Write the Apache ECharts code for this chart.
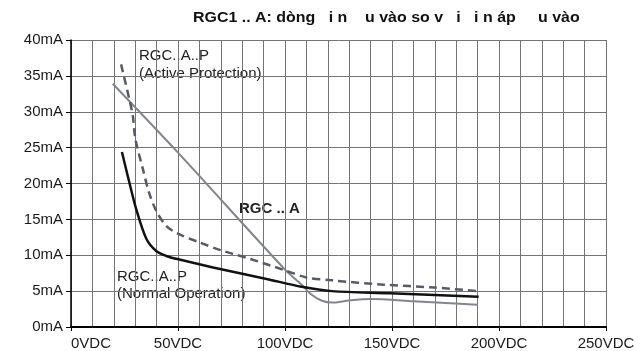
<!DOCTYPE html>
<html>
<head>
<meta charset="utf-8">
<script src="https://cdn.jsdelivr.net/npm/echarts@6/dist/echarts.min.js"></script>
<style>
  html, body { margin: 0; padding: 0; background: #fff; }
  #chart { width: 641px; height: 351px; }
</style>
</head>
<body>
<div id="chart"></div>
<script>
// Dòng đầu vào (mA) theo điện áp đầu vào (VDC)
const rgcA = [
  [19.5, 33.9], [50, 24.3], [100, 8.0], [107.8, 5.9], [112, 4.6], [117, 3.7],
  [122, 3.4], [130, 3.7], [140, 3.9], [160, 3.6], [190, 3.1],
];
const rgcActive = [
  [23.4, 36.6], [27.3, 31.7], [28.9, 29.4], [30.1, 26.2], [33.6, 22.0], [36.4, 18.8],
  [39.8, 16.2], [44.5, 14.1], [50, 13.0], [60, 11.8], [70, 10.7], [83.6, 9.5],
  [100, 7.9], [110, 6.9], [122, 6.5], [146, 5.9], [170, 5.5], [190, 5.0],
];
const rgcNormal = [
  [23.8, 24.4], [27.3, 20.1], [30.5, 16.4], [35.2, 12.3], [39.8, 10.6], [44.5, 9.9],
  [49.2, 9.5], [66.4, 8.3], [91.4, 6.7], [107.8, 5.6], [122, 5.0], [149, 4.7], [190.5, 4.2],
];

const FONT = '"Liberation Sans", Arial, sans-serif';
const GRID_LN = '#747474';

const chart = echarts.init(document.getElementById('chart'), null, { renderer: 'canvas' });

const splitCommon = { show: true, lineStyle: { color: GRID_LN, width: 1 } };

chart.setOption({
  animation: false,
  backgroundColor: '#fff',
  grid: { left: 71, right: 35, top: 40, bottom: 23 },
  xAxis: {
    type: 'value',
    min: 0, max: 250, interval: 50,
    axisLine: { lineStyle: { color: '#000', width: 2 } },
    axisTick: { show: true, length: 4, lineStyle: { color: '#000' } },
    minorTick: { show: false, splitNumber: 5 },
    minorSplitLine: splitCommon,
    splitLine: splitCommon,
    axisLabel: {
      color: '#1a1a1a', fontSize: 15, fontFamily: FONT, margin: 9,
      alignMinLabel: 'left',
      formatter: (v) => v + 'VDC',
    },
  },
  yAxis: {
    type: 'value',
    min: 0, max: 40, interval: 5,
    axisLine: { show: true, lineStyle: { color: '#000', width: 1.5 } },
    axisTick: { show: true, length: 5, lineStyle: { color: '#000' } },
    splitLine: splitCommon,
    axisLabel: {
      color: '#1a1a1a', fontSize: 15, fontFamily: FONT, margin: 8,
      formatter: (v) => v + 'mA',
    },
  },
  series: [
    {
      name: 'RGC..A', type: 'line', data: rgcA, smooth: 0.3, showSymbol: false,
      lineStyle: { color: '#82858d', width: 2 },
    },
    {
      name: 'RGC..A..P Active', type: 'line', data: rgcActive, smooth: 0.3, showSymbol: false,
      lineStyle: { color: '#565b66', width: 2.5, type: [8, 5] },
    },
    {
      name: 'RGC..A..P Normal', type: 'line', data: rgcNormal, smooth: 0.3, showSymbol: false,
      lineStyle: { color: '#111', width: 2.5 },
    },
  ],
  graphic: [
    {
      // tiêu đề hơi giãn ngang như ảnh gốc
      type: 'text', left: 193, top: 11, scaleX: 1.14,
      style: {
        text: 'RGC1 .. A: dòng   i n    u vào so v   i   i n áp     u vào',
        font: 'bold 14px ' + FONT, fill: '#111',
      },
    },
    {
      type: 'text', left: 139, top: 47,
      style: {
        text: 'RGC..A..P\n(Active Protection)', font: '15px ' + FONT,
        fill: '#222', lineHeight: 18,
      },
    },
    {
      type: 'text', left: 239, top: 201,
      style: { text: 'RGC .. A', font: 'bold 15px ' + FONT, fill: '#222' },
    },
    {
      type: 'text', left: 117, top: 268,
      style: {
        text: 'RGC..A..P\n(Normal Operation)', font: '15px ' + FONT,
        fill: '#222', lineHeight: 17,
      },
    },
  ],
});
</script>
</body>
</html>
